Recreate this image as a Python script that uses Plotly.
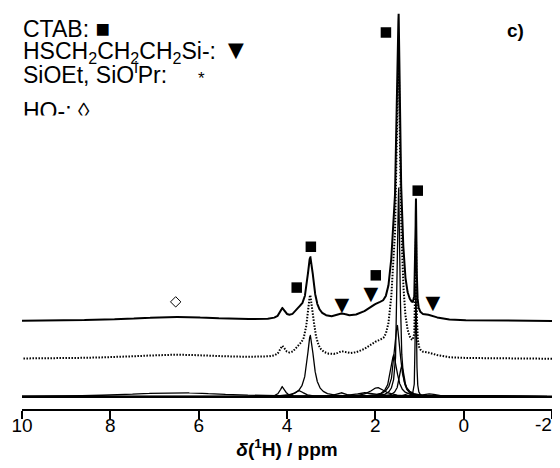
import numpy as np
import plotly.graph_objects as go

# ---- data -----------------------------------------------------------------
# deconvolution components: position (ppm), height above baseline (a.u.), half width (ppm)
peak_ppm    = [6.5, 4.10, 3.72, 3.47, 2.75, 2.20, 1.95, 1.58, 1.50, 1.47, 1.40, 1.20, 1.08, 0.75]
peak_height = [4.0, 10.0, 6.0, 60.0, 4.0, 4.0, 9.0, 41.0, 70.0, 205.0, 30.0, 4.0, 110.0, 3.0]
peak_hwhm   = [1.3, 0.07, 0.12, 0.09, 0.12, 0.30, 0.20, 0.09, 0.08, 0.035, 0.07, 0.12, 0.014, 0.15]

# vertical offsets of the three stacked spectra (a.u.)
offset_exp = 74.0
offset_fit = 37.0
offset_comp = 0.0

# assignment labels: (ppm, height a.u.)
square_ppm = [3.78, 3.46, 1.99, 1.76, 1.04]
square_y   = [107, 147, 119, 357, 202]
tri_ppm    = [2.76, 2.10, 0.70]
tri_y      = [88, 99, 90]
dia_ppm    = [6.52]
dia_y      = [93]

tick_vals = [10, 8, 6, 4, 2, 0, -2]
tick_text = ["10", "8", "6", "4", "2", "0", "-2"]

legend_lines = [
    "CTAB: <span style='font-size:24px'>\u25A0</span>",
    "HSCH<sub>2</sub>CH<sub>2</sub>CH<sub>2</sub>Si-: <span style='font-size:27px'>\u25BC</span>",
    "SiOEt, SiO<sup>i</sup>Pr:",
    "HO-: \u25CA",
]

# ---------------------------------------------------------------------------
ppm = np.arange(-2.0, 10.0001, 0.002)


def lorentz(x, x0, h, w):
    return h * w * w / ((x - x0) ** 2 + w * w)


components = [lorentz(ppm, p, h, w) for p, h, w in zip(peak_ppm, peak_height, peak_hwhm)]
total = np.sum(components, axis=0)

FONT = "Liberation Sans, Arial, sans-serif"
fig = go.Figure()

# experimental spectrum (top)
fig.add_trace(go.Scatter(x=ppm, y=total + offset_exp, mode="lines",
                         line=dict(color="black", width=2), hoverinfo="skip"))
# fitted sum (dotted)
fig.add_trace(go.Scatter(x=ppm, y=total + offset_fit, mode="lines",
                         line=dict(color="black", width=2, dash="1.5px,1.5px"), hoverinfo="skip"))
# baseline of component stack
fig.add_trace(go.Scatter(x=ppm, y=np.zeros_like(ppm) + offset_comp, mode="lines",
                         line=dict(color="black", width=2.5), hoverinfo="skip"))
# components
for c in components:
    fig.add_trace(go.Scatter(x=ppm, y=c + offset_comp, mode="lines",
                             line=dict(color="black", width=1.3), hoverinfo="skip"))

# labels
fig.add_trace(go.Scatter(x=square_ppm, y=square_y, mode="markers",
                         marker=dict(symbol="square", size=10.5, color="black"), hoverinfo="skip"))
fig.add_trace(go.Scatter(x=tri_ppm, y=tri_y, mode="text", text=["\u25BC"] * len(tri_ppm),
                         textfont=dict(family=FONT, size=25, color="black"), hoverinfo="skip"))
fig.add_trace(go.Scatter(x=dia_ppm, y=dia_y, mode="markers",
                         marker=dict(symbol="diamond-open", size=8, color="black",
                                     line=dict(width=1, color="black")), hoverinfo="skip"))

# the page adds an 8 px body margin, so the figure is 8 px smaller on each axis
FIG_W, FIG_H, PAGE_OFF = 552, 460, 8
L, R, T, B = 14, 8, 0, 59
W, H = FIG_W - L - R, FIG_H - T - B


def px(xp):  # page x pixel -> paper
    return (xp - PAGE_OFF - L) / W


def py(yp):  # page y pixel -> paper
    return (T + H - (yp - PAGE_OFF)) / H


legend_y = [28, 50.5, 73, 111]
annots = []
for txt, yy in zip(legend_lines, legend_y):
    annots.append(dict(text=txt, xref="paper", yref="paper", x=px(21), y=py(yy),
                       xanchor="left", yanchor="middle", showarrow=False,
                       font=dict(family=FONT, size=23, color="black")))
# the fourth legend line is cut off at its bottom in the original
annots.append(dict(text=" ", xref="paper", yref="paper", x=px(15), y=py(115),
                   xanchor="left", yanchor="top", showarrow=False, width=120, height=16,
                   bgcolor="white", font=dict(size=10)))
annots.append(dict(text="*", xref="paper", yref="paper", x=px(201), y=py(78),
                   xanchor="center", yanchor="middle", showarrow=False,
                   font=dict(family=FONT, size=17, color="black")))
annots.append(dict(text="<b>c)</b>", xref="paper", yref="paper", x=px(515), y=py(31),
                   xanchor="center", yanchor="middle", showarrow=False,
                   font=dict(family=FONT, size=19, color="black")))
# last tick label sits at the very edge: keep it inside the page, right aligned
annots.append(dict(text=tick_text[-1], xref="paper", yref="paper", x=px(554), y=py(424),
                   xanchor="right", yanchor="middle", showarrow=False,
                   font=dict(family=FONT, size=19, color="black")))
axis_ticktext = tick_text[:-1] + [""]

fig.update_layout(
    width=FIG_W, height=FIG_H,
    margin=dict(l=L, r=R, t=T, b=B, autoexpand=False),
    paper_bgcolor="white", plot_bgcolor="white",
    showlegend=False,
    annotations=annots,
    xaxis=dict(range=[10, -2], tickvals=tick_vals, ticktext=axis_ticktext, automargin=False,
               ticklabeloverflow="allow", ticklabelstandoff=-10,
               showline=True, linecolor="black", linewidth=2,
               ticks="outside", ticklen=8, tickwidth=2, tickcolor="black",
               showgrid=False, zeroline=False,
               tickfont=dict(family=FONT, size=19, color="black"),
               title=dict(text="<b><i>\u03B4</i>(<sup>1</sup>H) / ppm</b>",
                          font=dict(family=FONT, size=19, color="black"), standoff=3)),
    yaxis=dict(range=[-12, 381], visible=False, showgrid=False, zeroline=False,
               automargin=False),
)

fig.write_html("out.html")
